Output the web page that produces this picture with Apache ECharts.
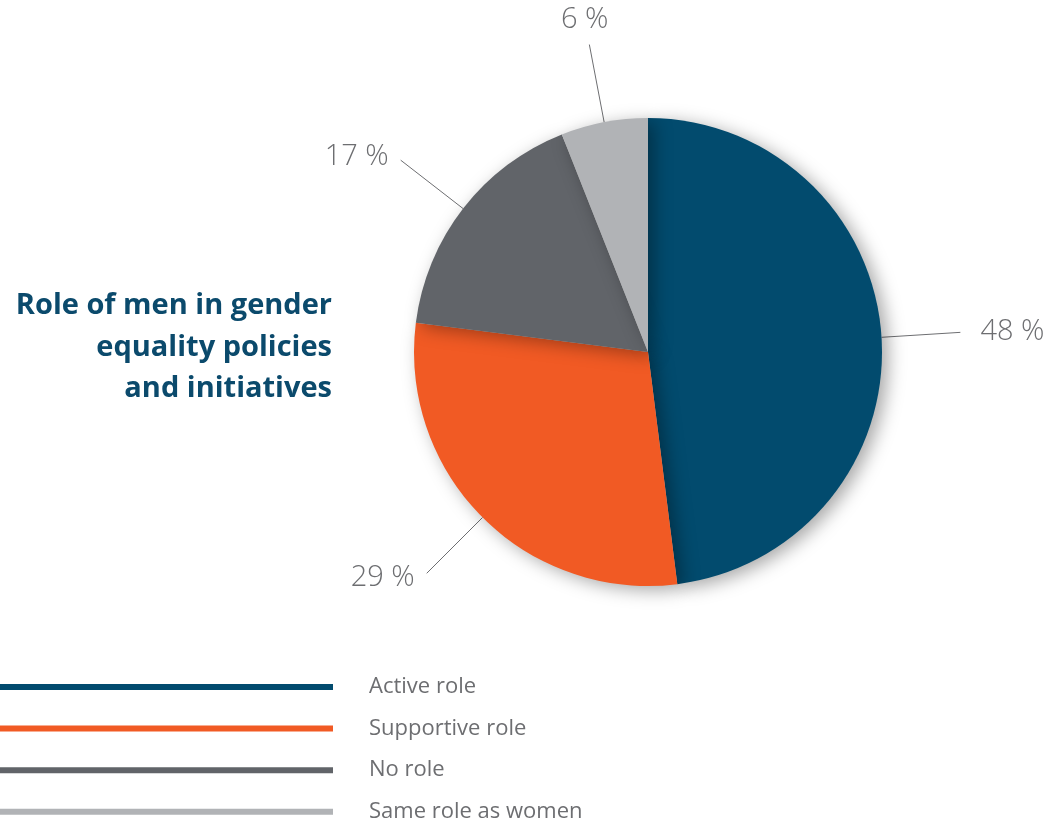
<!DOCTYPE html>
<html><head><meta charset="utf-8">
<script src="https://cdn.jsdelivr.net/npm/echarts@6/dist/echarts.min.js"></script>
<style>html,body{margin:0;padding:0;background:#fff}#c{width:1058px;height:825px}</style>
</head><body><div id="c"></div>
<script>
const categories = ['Active role', 'Supportive role', 'No role', 'Same role as women'];
const values = [48, 29, 17, 6];
const colors = ['#024b6e', '#f15a24', '#616469', '#b1b3b6'];
const titleLines = ['Role of men in gender', 'equality policies', 'and initiatives'];

const chart = echarts.init(document.getElementById('c'));
chart.setOption({
  animation: false,
  color: colors,
  title: titleLines.map((t, i) => ({
    text: t,
    right: 726,
    top: 285 + i * 41.5,
    padding: 0,
    textStyle: { fontFamily: 'Open Sans', fontSize: 29, fontWeight: 'bold', color: '#0b4a6c', lineHeight: 42 }
  })),
  legend: {
    orient: 'vertical',
    left: 0,
    top: 676,
    padding: 0,
    icon: 'rect',
    itemWidth: 333,
    itemHeight: 6,
    itemGap: 19.6,
    data: categories,
    textStyle: { fontFamily: 'Open Sans', fontSize: 22, color: '#6d6e71', lineHeight: 22, padding: [0, 0, 0, 31] }
  },
  series: [{
    type: 'pie',
    center: [648, 352],
    radius: 234,
    startAngle: 90,
    clockwise: true,
    itemStyle: { shadowBlur: 18, shadowOffsetX: 6, shadowOffsetY: 4, shadowColor: 'rgba(0,0,0,0.35)' },
    label: {
      show: true,
      formatter: '{c} %',
      fontFamily: 'Open Sans',
      fontWeight: 300,
      fontSize: 29,
      color: '#6d6e71'
    },
    labelLine: { show: true, length: 79, length2: 0, lineStyle: { color: '#6d6e71', width: 1 } },
    labelLayout: function (p) {
      const pts = p.labelLinePoints;
      if (!pts) return {};
      const a = pts[0], b = pts[1];
      let dx = b[0] - a[0], dy = b[1] - a[1];
      const len = Math.hypot(dx, dy) || 1;
      dx /= len; dy /= len;
      const hw = p.labelRect.width / 2, hh = p.labelRect.height * 0.38;
      let x, y;
      if (Math.abs(dx) > 0.5) {
        const gap = dx > 0 ? 20 : 12;
        x = b[0] + Math.sign(dx) * (gap + hw);
        y = b[1] + dy * 6;
      } else {
        const t = Math.min(Math.abs(dx) > 1e-6 ? hw / Math.abs(dx) : 1e9, hh / Math.abs(dy));
        x = b[0] + dx * (14 + t);
        y = b[1] + dy * (14 + t);
      }
      return {
        x: x, y: y,
        align: 'center',
        verticalAlign: 'middle',
        labelLinePoints: pts.map(q => q.slice())
      };
    },
    emphasis: { disabled: true },
    data: categories.map((n, i) => ({ name: n, value: values[i] }))
  }]
});
</script></body></html>
